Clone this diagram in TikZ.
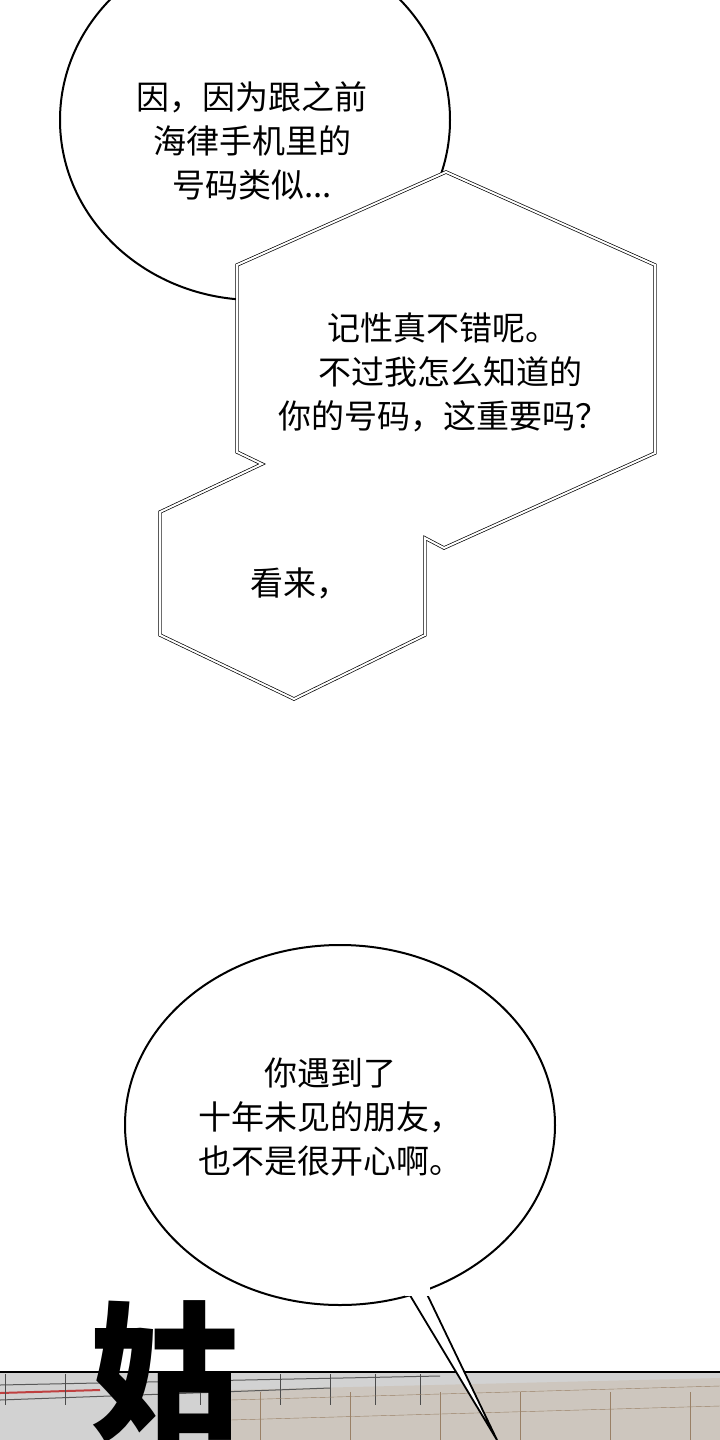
\documentclass[tikz,border=0pt]{standalone}
\usepackage{fontspec}
\newfontfamily\cjk{Noto Sans CJK SC}
\begin{document}
\begin{tikzpicture}[x=1pt,y=-1pt,
  says/.style={font=\cjk\fontsize{33}{44}\selectfont,align=center},
  hexline/.style={double,double distance=2pt,line width=0.7pt,fill=white},
  bubble/.style={line width=2pt,fill=white}]
\useasboundingbox (0,0) rectangle (720,1440);
% first bubble, cut by the hexagons
\draw [bubble] (255,120) ellipse (195 and 180);
\draw [hexline] (446,172) -- (655,265) -- (655,453) -- (444,548) -- (425,538)
      -- (425,635) -- (294,699) -- (160,635) -- (160,512) -- (262,464)
      -- (237,452) -- (237,265) -- cycle;
\node [says] (first) at (252,141) {因，因为跟之前\\海律手机里的\\号码类似...};
\node [says] (memory) at (443,372) {记性真不错呢。\\\ \ 不过我怎么知道的\\你的号码，这重要吗？};
\node [says] (seems) at (300,583) {看来，};
% wall at the bottom
\fill [gray!35] (0,1373) rectangle (720,1440);
\fill [brown!25!gray!45] (230,1390) -- (720,1378) -- (720,1440) -- (230,1440) -- cycle;
\draw [black,line width=2pt] (0,1372) -- (720,1372);
\draw [gray!70!black,line width=1pt] (0,1385) -- (440,1376);
\draw [gray!70!black,line width=1pt] (0,1400) -- (330,1388);
\draw [red!50!gray,line width=2pt] (0,1393) -- (100,1390);
\foreach \xx in {5,65,140,200,280,330,375,420}
  \draw [gray!60!black,line width=1pt] (\xx,1374) -- (\xx,1405);
\foreach \yy in {1400,1420}
  \draw [brown!40!gray] (230,\yy) -- (720,\yy-14);
\foreach \xx in {260,350,440,520,610,690}
  \draw [brown!40!gray] (\xx,1392) -- (\xx,1440);
\node [font=\cjk\bfseries\fontsize{150}{150}\selectfont,text=black,
  inner sep=0pt,anchor=north] (sfx) at (165,1300) {姑};
% second bubble with its tail
\draw [bubble] (340,1125) ellipse (215 and 180);
\coordinate (tailtip) at (497,1440);
\draw [line width=1.8pt,fill=white] (408,1292) -- (tailtip) -- (425,1290);
\fill [white] (405,1280) rectangle (430,1296);
\node [says] (friend) at (330,1117) {你遇到了\\十年未见的朋友，\\也不是很开心啊。};
\end{tikzpicture}
\end{document}
